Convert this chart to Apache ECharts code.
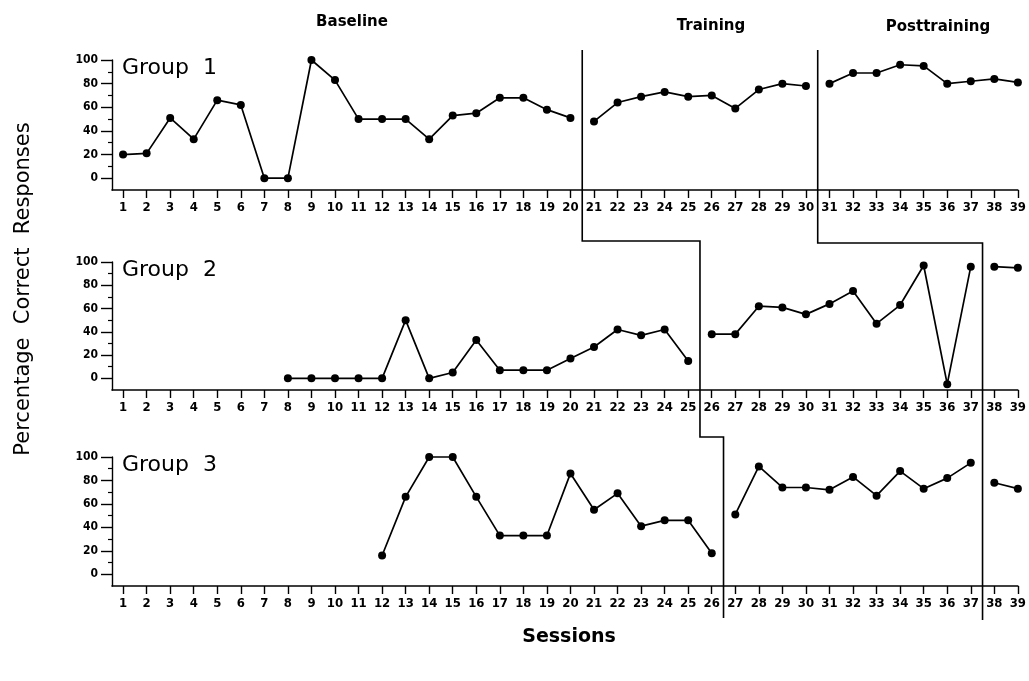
<!DOCTYPE html>
<html>
<head>
<meta charset="utf-8">
<script src="https://cdn.jsdelivr.net/npm/echarts@6/dist/echarts.min.js"></script>
<style>
html,body{margin:0;padding:0;background:#fff;}
#chart{width:1029px;height:681px;}
</style>
</head>
<body>
<div id="chart"></div>
<script>
// ---- data ----
const sessions = [1,2,3,4,5,6,7,8,9,10,11,12,13,14,15,16,17,18,19,20,21,22,23,24,25,26,27,28,29,30,31,32,33,34,35,36,37,38,39];
const yTickLabels = [0,20,40,60,80,100];
const yMinorTicks = [10,30,50,70,90];
const groupNames = ['Group  1','Group  2','Group  3'];
const phaseNames = ['Baseline','Training','Posttraining'];

// values per session (null = no session)
const group1 = [20,21,51,33,66,62,0,0,100,83,50,50,50,33,53,55,68,68,58,51,48,64,69,73,69,70,59,75,80,78,80,89,89,96,95,80,82,84,81];
const group2 = [null,null,null,null,null,null,null,0,0,0,0,0,50,0,5,33,7,7,7,17,27,42,37,42,15,38,38,62,61,55,64,75,47,63,97,-5,96,96,95];
const group3 = [null,null,null,null,null,null,null,null,null,null,null,16,66,100,100,66,33,33,33,86,55,69,41,46,46,18,51,92,74,74,72,83,67,88,73,82,95,78,73];

// phase change boundaries (between sessions) for each group
const group1Phases = [20.5, 30.5];
const group2Phases = [25.5, 37.5];
const group3Phases = [26.5, 37.5];

const groups = [group1, group2, group3];
const phases = [group1Phases, group2Phases, group3Phases];

// ---- layout ----
const grids = [
  {left:112, right:7, top:60, height:130},
  {left:112, right:7, top:262, height:128},
  {left:112, right:7, top:457, height:129}
];
const tickFont = "'Liberation Sans Narrow','DejaVu Sans Condensed',sans-serif";

const chart = echarts.init(document.getElementById('chart'), null, {renderer:'canvas'});

const xAxes = [], yAxes = [], series = [];
grids.forEach((g, i) => {
  xAxes.push({
    type:'value', gridIndex:i, min:0.53, max:39,
    axisLine:{show:true, onZero:false, lineStyle:{color:'#000', width:1.6}},
    axisTick:{show:true, inside:false, length:8, lineStyle:{color:'#000', width:1.4}, customValues:sessions},
    axisLabel:{show:true, margin:11, fontSize:13, fontWeight:'bold', fontFamily:tickFont, color:'#000', customValues:sessions},
    splitLine:{show:false}
  });
  yAxes.push({
    type:'value', gridIndex:i, min:-10, max:100,
    axisLine:{show:true, onZero:false, lineStyle:{color:'#000', width:1.4}},
    axisTick:{show:true, length:11, lineStyle:{color:'#000', width:1.4}, customValues:yTickLabels},
    axisLabel:{show:true, margin:14, fontSize:12, fontWeight:'bold', fontFamily:tickFont, color:'#000', customValues:yTickLabels},
    splitLine:{show:false}
  });
  yAxes.push({
    type:'value', gridIndex:i, min:-10, max:100, position:'left',
    axisLine:{show:false, onZero:false},
    axisTick:{show:true, length:4, lineStyle:{color:'#000', width:1.2}, customValues:yMinorTicks},
    axisLabel:{show:false},
    splitLine:{show:false}
  });
  // split the group's data into phase segments
  const vals = groups[i];
  const bounds = [-Infinity].concat(phases[i], [Infinity]);
  for (let p = 0; p < bounds.length - 1; p++) {
    const seg = [];
    sessions.forEach((s, k) => {
      if (s > bounds[p] && s < bounds[p+1] && vals[k] !== null) seg.push([s, vals[k]]);
    });
    if (seg.length) {
      series.push({
        type:'line', xAxisIndex:i, yAxisIndex:i*2, data:seg,
        symbol:'circle', symbolSize:8, showSymbol:true,
        itemStyle:{color:'#000'}, lineStyle:{color:'#000', width:1.7},
        animation:false, silent:true, clip:false
      });
    }
  }
});

chart.setOption({
  backgroundColor:'#fff',
  animation:false,
  grid:grids,
  xAxis:xAxes,
  yAxis:yAxes,
  series:series
});

// ---- phase change lines and text ----
function px(gi, v){ return chart.convertToPixel({xAxisIndex:gi}, v); }
const topY = 50;
const stepA = [241, 437];
const stepB = [243, 243];
const botA = 618, botB = 620;

const lineA = [
  [px(0, group1Phases[0]), topY],
  [px(0, group1Phases[0]), stepA[0]],
  [px(1, group2Phases[0]), stepA[0]],
  [px(1, group2Phases[0]), stepA[1]],
  [px(2, group3Phases[0]), stepA[1]],
  [px(2, group3Phases[0]), botA]
];
const lineB = [
  [px(0, group1Phases[1]), topY],
  [px(0, group1Phases[1]), stepB[0]],
  [px(1, group2Phases[1]), stepB[0]],
  [px(2, group3Phases[1]), botB]
];

const graphics = [
  {type:'polyline', shape:{points:lineA}, style:{stroke:'#000', lineWidth:1.6, fill:null}, silent:true},
  {type:'polyline', shape:{points:lineB}, style:{stroke:'#000', lineWidth:1.6, fill:null}, silent:true},
  {type:'text', x:352, y:22, style:{text:phaseNames[0], font:"bold 15px 'DejaVu Sans'", fill:'#000', textAlign:'center', textVerticalAlign:'middle'}},
  {type:'text', x:711, y:26, style:{text:phaseNames[1], font:"bold 15px 'DejaVu Sans'", fill:'#000', textAlign:'center', textVerticalAlign:'middle'}},
  {type:'text', x:938, y:27, style:{text:phaseNames[2], font:"bold 15px 'DejaVu Sans'", fill:'#000', textAlign:'center', textVerticalAlign:'middle'}},
  {type:'text', x:569, y:637, style:{text:'Sessions', font:"bold 19px 'DejaVu Sans'", fill:'#000', textAlign:'center', textVerticalAlign:'middle'}},
  {type:'text', x:24, y:289, rotation:Math.PI/2, style:{text:'Percentage  Correct  Responses', font:"21px 'DejaVu Sans'", fill:'#000', textAlign:'center', textVerticalAlign:'middle'}}
];
grids.forEach((g, i) => {
  graphics.push({type:'text', x:122, y:g.top + 8, style:{text:groupNames[i], font:"22px 'DejaVu Sans'", fill:'#000', textAlign:'left', textVerticalAlign:'middle'}});
});
chart.setOption({graphic:graphics});
</script>
</body>
</html>
